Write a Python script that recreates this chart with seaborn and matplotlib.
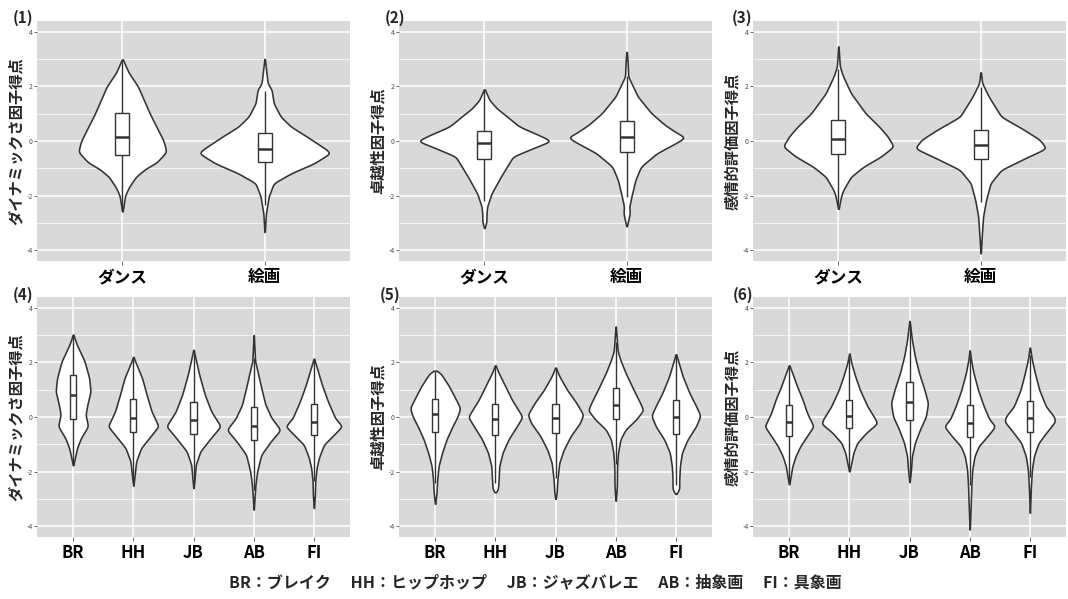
import numpy as np
import pandas as pd
import matplotlib
matplotlib.use("Agg")
import matplotlib.pyplot as plt
import seaborn as sns

# ---------------- data ----------------
ylabels = ["ダイナミックさ因子得点", "卓越性因子得点", "感情的評価因子得点"]
art_types = ["ダンス", "絵画"]
genres = ["BR", "HH", "JB", "AB", "FI"]
caption = "BR：ブレイク　 HH：ヒップホップ　 JB：ジャズバレエ　 AB：抽象画　 FI：具象画"

# violin profiles: score levels and relative half-widths (density) at those levels
p1_y = {"ダンス": [3.03, 2.8, 2.5, 2.0, 1.0, 0.0, -0.4, -0.8, -1.0, -1.3, -1.7, -2.0, -2.65],
        "絵画": [3.09, 2.6, 2.12, 1.87, 1.38, 0.89, 0.53, 0.16, -0.33, -0.45, -0.82, -1.19, -1.55, -2.04, -2.65, -3.45]}
p1_w = {"ダンス": [0, 3, 7, 17, 30, 45, 48, 37, 26, 15, 7, 3, 0],
        "絵画": [0, 1.5, 3, 7, 9, 16, 26, 42, 62, 65, 49, 26, 9, 4, 1.3, 0]}

p2_y = {"ダンス": [1.93, 1.5, 1.2, 0.9, 0.53, 0.22, 0.0, -0.27, -0.57, -0.94, -1.31, -1.92, -2.41, -2.7, -2.95, -3.24],
        "絵画": [3.36, 3.0, 2.6, 2.36, 2.12, 1.63, 1.02, 0.59, 0.28, 0.13, -0.09, -0.45, -0.94, -1.43, -2.04, -2.41, -2.65, -3.18]}
p2_w = {"ダンス": [0, 5, 12, 22, 34, 53, 65, 47, 28, 22, 16, 7, 2.7, 2, 2, 0],
        "絵画": [0, 1, 1.7, 2, 6, 14, 31, 48, 64, 74, 61, 38, 18, 11, 6, 3.3, 4, 0]}

p3_y = {"ダンス": [3.58, 2.73, 2.36, 1.75, 1.02, 0.53, 0.16, -0.2, -0.57, -0.94, -1.31, -1.8, -2.04, -2.55],
        "絵画": [2.6, 2.12, 1.63, 1.26, 0.89, 0.4, 0.04, -0.27, -0.64, -1.06, -1.55, -2.17, -2.78, -3.63, -4.24]}
p3_w = {"ダンス": [0, 1.5, 5, 13, 28, 42, 51, 57, 44, 26, 13, 5, 2.7, 0],
        "絵画": [0, 1.7, 9, 16, 23, 49, 66, 73, 49, 23, 11, 6, 2.7, 1, 0]}

p4_y = {"BR": [3.05, 2.66, 2.05, 1.43, 0.94, 0.45, 0.09, -0.34, -0.77, -1.14, -1.5, -1.81],
        "HH": [2.23, 2.05, 1.43, 0.82, 0.21, -0.34, -0.77, -1.14, -1.63, -2.12, -2.57],
        "JB": [2.5, 2.05, 1.56, 0.82, 0.21, -0.34, -0.77, -1.26, -1.75, -2.24, -2.67],
        "AB": [3.09, 2.05, 1.68, 1.07, 0.45, -0.04, -0.47, -0.89, -1.38, -2.0, -2.49, -2.86, -3.47],
        "FI": [2.17, 1.68, 1.19, 0.58, -0.04, -0.34, -0.65, -1.02, -1.5, -1.88, -2.35, -2.86, -3.41]}
p4_w = {"BR": [0, 10, 32, 45, 49, 40, 35, 42, 22, 11, 5, 0],
        "HH": [0, 5, 25, 38, 52, 72, 45, 22, 8, 4, 0],
        "JB": [0, 7, 15, 30, 47, 72, 46, 18, 6, 3, 0],
        "AB": [0, 4, 11, 22, 34, 52, 78, 50, 22, 10, 5, 3, 0],
        "FI": [0, 12, 24, 42, 64, 85, 60, 30, 15, 8, 4, 3, 0]}

p5_y = {"BR": [1.71, 1.62, 1.13, 0.64, 0.33, 0.03, -0.34, -0.82, -1.31, -1.8, -2.29, -2.78, -3.24],
        "HH": [1.92, 1.62, 1.13, 0.64, 0.15, 0.0, -0.34, -0.82, -1.31, -1.8, -2.29, -2.66, -2.78],
        "JB": [1.84, 1.5, 1.01, 0.52, 0.09, -0.21, -0.7, -1.19, -1.68, -2.29, -2.78, -3.05],
        "AB": [3.39, 2.41, 2.09, 1.62, 1.01, 0.52, 0.25, -0.09, -0.46, -0.82, -1.31, -1.8, -2.53, -3.14],
        "FI": [2.33, 2.0, 1.5, 0.89, 0.4, 0.05, -0.34, -0.82, -1.31, -1.8, -2.29, -2.66, -2.84]}
p5_w = {"BR": [0, 15, 40, 60, 72, 65, 50, 33, 20, 10, 6, 4, 0],
        "HH": [0, 10, 30, 50, 75, 82, 65, 40, 22, 12, 10, 8, 0],
        "JB": [0, 10, 30, 55, 73, 65, 40, 22, 10, 5, 3, 0],
        "AB": [0, 5, 12, 25, 45, 62, 70, 52, 25, 12, 6, 3.5, 3, 0],
        "FI": [0, 8, 20, 40, 60, 73, 60, 35, 18, 12, 10, 10, 0]}

p6_y = {"BR": [1.92, 1.61, 1.12, 0.64, 0.15, -0.34, -0.71, -1.07, -1.44, -1.81, -2.17, -2.51],
        "HH": [2.37, 1.98, 1.49, 1.0, 0.39, -0.1, -0.24, -0.59, -0.95, -1.32, -1.69, -2.03],
        "JB": [3.57, 2.83, 2.22, 1.61, 1.0, 0.51, 0.02, -0.46, -0.95, -1.44, -1.93, -2.44],
        "AB": [2.49, 2.1, 1.61, 1.0, 0.39, -0.1, -0.34, -0.71, -1.07, -1.44, -1.93, -2.54, -3.27, -4.22],
        "FI": [2.59, 2.1, 1.61, 1.0, 0.39, 0.02, -0.16, -0.59, -0.95, -1.44, -1.93, -2.54, -3.61]}
p6_w = {"BR": [0, 10, 25, 42, 56, 76, 55, 35, 20, 10, 5, 0],
        "HH": [0, 6, 18, 32, 55, 80, 84, 50, 24, 12, 6, 0],
        "JB": [0, 8, 18, 32, 50, 62, 55, 35, 18, 8, 5, 0],
        "AB": [0, 4, 12, 26, 44, 62, 80, 55, 28, 15, 8, 5, 3, 0],
        "FI": [0, 6, 15, 28, 48, 72, 76, 48, 26, 12, 6, 3, 0]}

panels = [(p1_y, p1_w, art_types, ylabels[0]), (p2_y, p2_w, art_types, ylabels[1]),
          (p3_y, p3_w, art_types, ylabels[2]), (p4_y, p4_w, genres, ylabels[0]),
          (p5_y, p5_w, genres, ylabels[1]), (p6_y, p6_w, genres, ylabels[2])]


def scores_from_profile(ys, ws, n=5000):
    """Turn a read density profile into evenly spaced quantile scores."""
    ys = np.asarray(ys, float)
    ws = np.asarray(ws, float)
    o = np.argsort(ys)
    ys, ws = ys[o], ws[o]
    grid = np.linspace(ys[0], ys[-1], 4000)
    dens = np.interp(grid, ys, ws)
    cdf = np.concatenate([[0.0], np.cumsum((dens[1:] + dens[:-1]) / 2 * np.diff(grid))])
    cdf /= cdf[-1]
    p = (np.arange(n) + 0.5) / n
    return np.interp(p, cdf, grid)


# ---------------- style ----------------
sns.set_theme(style="darkgrid", rc={
    "axes.facecolor": "#D9D9D9",
    "grid.color": "white",
    "axes.edgecolor": "#D9D9D9",
})
plt.rcParams["font.family"] = ["Noto Sans CJK JP", "DejaVu Sans"]

W, H = 1068, 599
fig = plt.figure(figsize=(W / 100, H / 100), dpi=100)

lefts = [37, 399, 753]
tops = [21, 297]
pw, ph = 313, 240
label_pos = [(13, 23), (385, 23), (732, 23), (13, 300), (380, 300), (733, 300)]

line_col = "#333333"

for i, (py, pwid, cats, ylab) in enumerate(panels):
    r, c = divmod(i, 3)
    ax = fig.add_axes([lefts[c] / W, 1 - (tops[r] + ph) / H, pw / W, ph / H])
    frames = []
    for cat in cats:
        vals = scores_from_profile(py[cat], pwid[cat])
        frames.append(pd.DataFrame({"cat": cat, "score": vals}))
    df = pd.concat(frames, ignore_index=True)

    sns.violinplot(data=df, x="cat", y="score", order=cats, color="white",
                   linecolor=line_col, linewidth=1.15, width=0.9, cut=0,
                   inner=None, density_norm="area", bw_adjust=0.35,
                   gridsize=400, saturation=1, ax=ax)
    sns.boxplot(data=df, x="cat", y="score", order=cats, color="white",
                linecolor=line_col, linewidth=1.0, width=0.1,
                showfliers=False, showcaps=False, saturation=1,
                medianprops=dict(linewidth=1.8, color=line_col), ax=ax)

    ax.set_xlim(-0.6, len(cats) - 0.4)
    ax.set_ylim(-4.4, 4.4)
    ax.set_yticks([-4, -2, 0, 2, 4])
    ax.set_yticklabels(["-4", "-2", "0", "2", "4"])
    ax.set_yticks([-3, -1, 1, 3], minor=True)
    ax.grid(True, which="major", color="white", linewidth=1.1)
    ax.grid(True, which="minor", axis="y", color="white", linewidth=0.5)
    ax.tick_params(axis="y", which="major", labelsize=5, colors="#4D4D4D",
                   length=2, width=0.6, pad=1, left=True)
    ax.tick_params(axis="y", which="minor", length=0)
    ax.tick_params(axis="x", labelsize=12, length=3, width=0.6,
                   color="#4D4D4D", labelcolor="black", pad=2, bottom=True)
    for t in ax.get_xticklabels():
        t.set_fontweight("bold")
    for s in ax.spines.values():
        s.set_visible(False)
    ax.set_xlabel("")
    ax.set_ylabel(ylab, fontsize=11, fontweight="bold", labelpad=2)
    lx, ly = label_pos[i]
    fig.text(lx / W, 1 - ly / H, f"({i + 1})", fontsize=11, fontweight="bold",
             ha="left", va="baseline")

fig.text(535 / W, 1 - 582 / H, caption, fontsize=11.5, fontweight="bold",
         ha="center", va="center")

fig.savefig("out.png", dpi=100)
